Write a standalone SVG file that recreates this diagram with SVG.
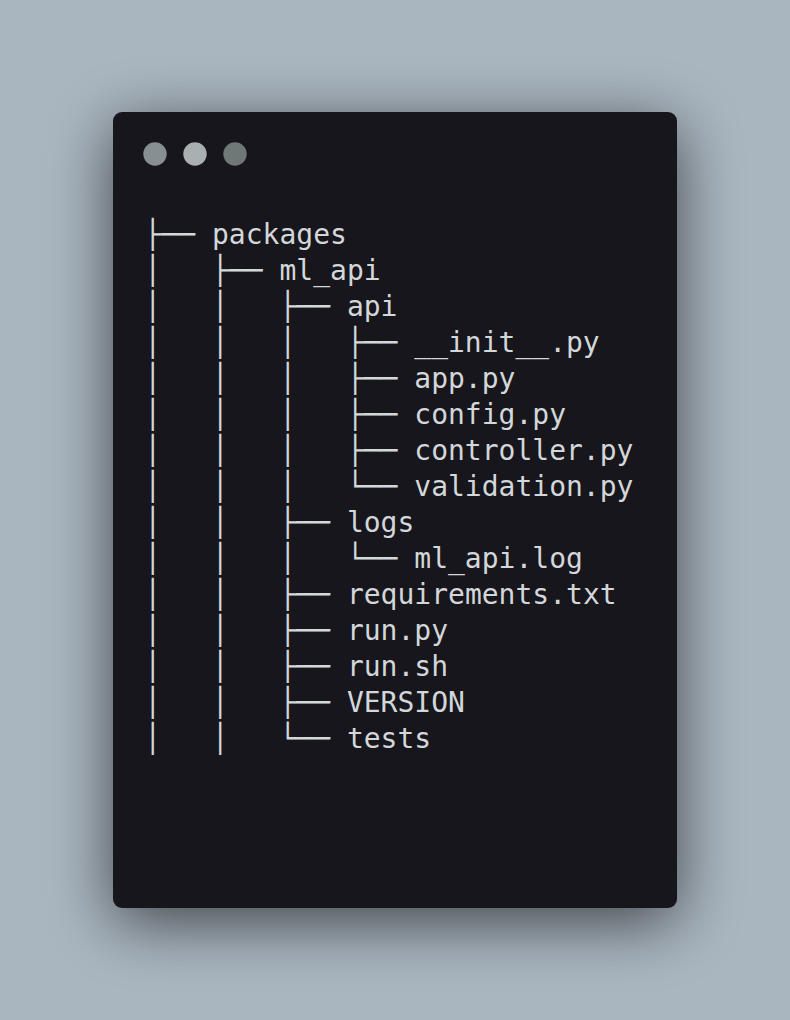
<svg xmlns="http://www.w3.org/2000/svg" width="790" height="1020" viewBox="0 0 790 1020">
  <defs>
    <filter id="shadow" x="-35%" y="-35%" width="170%" height="170%">
      <feGaussianBlur in="SourceAlpha" stdDeviation="32"/>
      <feOffset dx="0" dy="14" result="b"/>
      <feComponentTransfer><feFuncA type="linear" slope="0.62"/></feComponentTransfer>
      <feMerge><feMergeNode/><feMergeNode in="SourceGraphic"/></feMerge>
    </filter>
  </defs>
  <style>
    .t { font-family: "DejaVu Sans Mono", "Liberation Mono", monospace; font-size: 28px; fill: #d3d7d9; }
  </style>
  <rect x="0" y="0" width="790" height="1020" fill="#a9b5bf"/>
  <g id="window">
    <rect x="113" y="112" width="564" height="796" rx="9" ry="9" fill="#17191b" filter="url(#shadow)"/>
    <circle cx="155" cy="154" r="11.7" fill="#878f92"/>
    <circle cx="195" cy="154" r="11.7" fill="#aab0b2"/>
    <circle cx="235" cy="154" r="11.7" fill="#6f7876"/>
  </g>
  <g id="connectors" class="t">
    <text xml:space="preserve" x="144.6" y="244">├──</text>
    <text xml:space="preserve" x="144.6" y="280">│   ├──</text>
    <text xml:space="preserve" x="144.6" y="316">│   │   ├──</text>
    <text xml:space="preserve" x="144.6" y="352">│   │   │   ├──</text>
    <text xml:space="preserve" x="144.6" y="388">│   │   │   ├──</text>
    <text xml:space="preserve" x="144.6" y="424">│   │   │   ├──</text>
    <text xml:space="preserve" x="144.6" y="460">│   │   │   ├──</text>
    <text xml:space="preserve" x="144.6" y="496">│   │   │   └──</text>
    <text xml:space="preserve" x="144.6" y="532">│   │   ├──</text>
    <text xml:space="preserve" x="144.6" y="568">│   │   │   └──</text>
    <text xml:space="preserve" x="144.6" y="604">│   │   ├──</text>
    <text xml:space="preserve" x="144.6" y="640">│   │   ├──</text>
    <text xml:space="preserve" x="144.6" y="676">│   │   ├──</text>
    <text xml:space="preserve" x="144.6" y="712">│   │   ├──</text>
    <text xml:space="preserve" x="144.6" y="748">│   │   └──</text>
  </g>
  <g id="node-packages" class="t"><text x="212.0" y="244">packages</text></g>
  <g id="node-ml_api" class="t"><text x="279.5" y="280">ml_api</text></g>
  <g id="node-api" class="t"><text x="346.9" y="316">api</text></g>
  <g id="node-init" class="t"><text x="414.3" y="352">__init__.py</text></g>
  <g id="node-app" class="t"><text x="414.3" y="388">app.py</text></g>
  <g id="node-config" class="t"><text x="414.3" y="424">config.py</text></g>
  <g id="node-controller" class="t"><text x="414.3" y="460">controller.py</text></g>
  <g id="node-validation" class="t"><text x="414.3" y="496">validation.py</text></g>
  <g id="node-logs" class="t"><text x="346.9" y="532">logs</text></g>
  <g id="node-ml_api_log" class="t"><text x="414.3" y="568">ml_api.log</text></g>
  <g id="node-requirements" class="t"><text x="346.9" y="604">requirements.txt</text></g>
  <g id="node-run_py" class="t"><text x="346.9" y="640">run.py</text></g>
  <g id="node-run_sh" class="t"><text x="346.9" y="676">run.sh</text></g>
  <g id="node-version" class="t"><text x="346.9" y="712">VERSION</text></g>
  <g id="node-tests" class="t"><text x="346.9" y="748">tests</text></g>
</svg>
